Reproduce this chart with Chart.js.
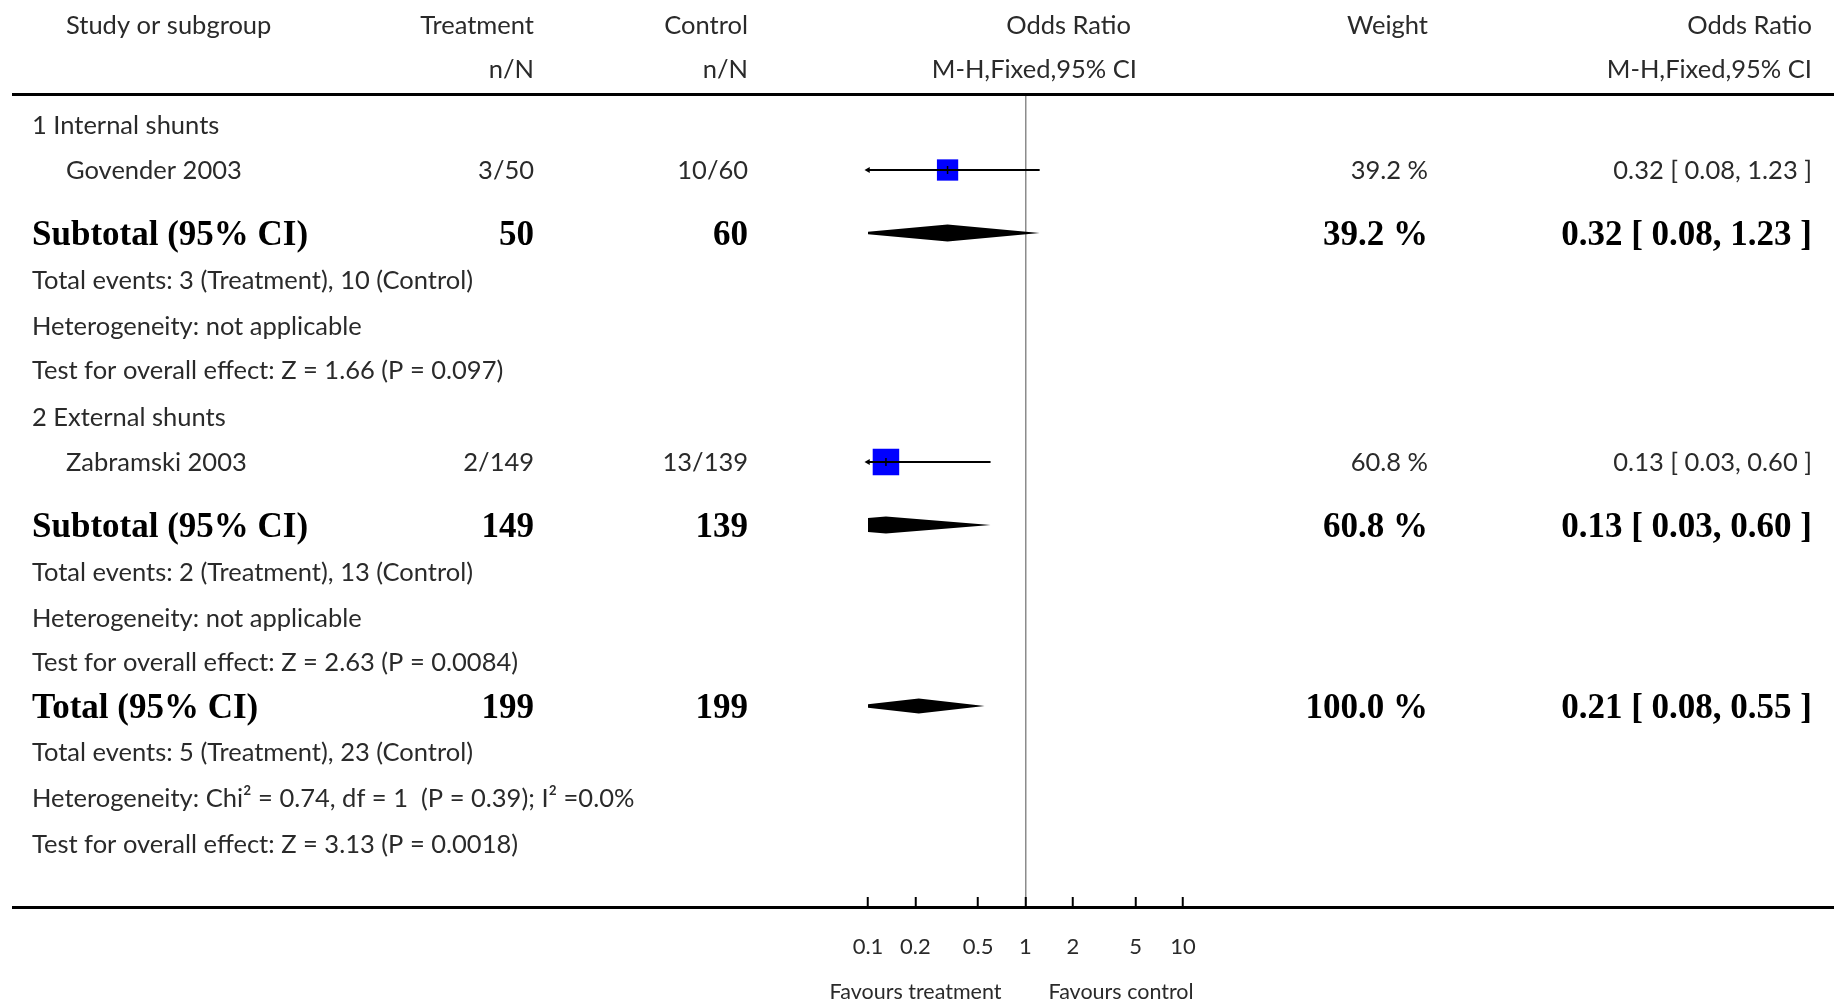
<!DOCTYPE html>
<html>
<head>
<meta charset="utf-8">
<script src="https://cdn.jsdelivr.net/npm/chart.js@4.4.1/dist/chart.umd.min.js"></script>
<style>
  html, body { margin: 0; padding: 0; background: #fff; }
  #wrap { width: 1837px; height: 1002px; }
</style>
</head>
<body>
<div id="wrap"><canvas id="forest" width="1837" height="1002"></canvas></div>
<script>
// forest plot - odds ratio, M-H fixed, 95% CI

const groupNames = ["1 Internal shunts", "2 External shunts"];
const studyNames = ["Govender 2003", "Zabramski 2003"];
const studyGroup = [0, 1];
const treatEvents = [3, 2];
const treatTotal = [50, 149];
const ctrlEvents = [10, 13];
const ctrlTotal = [60, 139];
const studyOR = [0.32, 0.13];
const studyLow = [0.08, 0.03];
const studyHigh = [1.23, 0.60];
const studyWeight = [39.2, 60.8];

const subTreatTotal = [50, 149];
const subCtrlTotal = [60, 139];
const subTreatEvents = [3, 2];
const subCtrlEvents = [10, 13];
const subOR = [0.32, 0.13];
const subLow = [0.08, 0.03];
const subHigh = [1.23, 0.60];
const subWeight = [39.2, 60.8];
const subHeterogeneity = ["Heterogeneity: not applicable", "Heterogeneity: not applicable"];
const subTest = ["Test for overall effect: Z = 1.66 (P = 0.097)", "Test for overall effect: Z = 2.63 (P = 0.0084)"];

const totalTreat = 199, totalCtrl = 199;
const totalTreatEvents = 5, totalCtrlEvents = 23;
const totalOR = 0.21, totalLow = 0.08, totalHigh = 0.55, totalWeight = 100.0;
const totalHeterogeneity = "Heterogeneity: Chi² = 0.74, df = 1  (P = 0.39); I² =0.0%";
const totalTest = "Test for overall effect: Z = 3.13 (P = 0.0018)";

const tickValues = [0.1, 0.2, 0.5, 1, 2, 5, 10];
const tickLabels = ["0.1", "0.2", "0.5", "1", "2", "5", "10"];
const favourLabels = ["Favours treatment", "Favours control"];

// layout
const W = 1837, H = 1002;
const ruleTop = 95, ruleBottom = 907, ruleLeft = 12, ruleRight = 1834;
const plotLeft = 868, plotRight = 1183;
const colName = 32, colStudy = 66, colTreat = 534, colCtrl = 748;
const colPlotHead1 = 1131, colPlotHead2 = 1137, colWeight = 1428, colOR = 1812;
const SANS = '"Lato", "Open Sans", sans-serif';
const SERIF = '"Liberation Serif", "Times New Roman", serif';
const sansFont = "25.5px " + SANS;
const boldFont = "bold 35px " + SERIF;
const textColor = "#2a2a2a";
const sansShift = 1, boldShift = 3;

const fmtOR = (o, l, h) => `${o.toFixed(2)} [ ${l.toFixed(2)}, ${h.toFixed(2)} ]`;
const fmtW = w => `${w.toFixed(1)} %`;
const eventsText = (t, c) => `Total events: ${t} (Treatment), ${c} (Control)`;

// build the table rows (y in px below the top rule)
const rows = [];
let y = 0;
function addRow(r, gap) { y += gap; r.y = y; rows.push(r); return r; }

const studyY = [], summaries = [];
groupNames.forEach((g, gi) => {
    addRow({ kind: "plain", text: g }, gi === 0 ? 30 : 47);
    studyNames.forEach((s, i) => {
        if (studyGroup[i] !== gi) return;
        const r = addRow({ kind: "study", i }, 45);
        studyY[i] = r.y;
    });
    const r = addRow({ kind: "bold", label: "Subtotal (95% CI)", nT: subTreatTotal[gi], nC: subCtrlTotal[gi],
        w: subWeight[gi], or: subOR[gi], lo: subLow[gi], hi: subHigh[gi] }, 63);
    summaries.push({ or: r.or, lo: r.lo, hi: r.hi, y: r.y, h: 8.5 });
    addRow({ kind: "plain", text: eventsText(subTreatEvents[gi], subCtrlEvents[gi]) }, 47);
    addRow({ kind: "plain", text: subHeterogeneity[gi] }, 46);
    addRow({ kind: "plain", text: subTest[gi] }, 44);
});
const tr = addRow({ kind: "bold", label: "Total (95% CI)", nT: totalTreat, nC: totalCtrl,
    w: totalWeight, or: totalOR, lo: totalLow, hi: totalHigh }, 44);
summaries.push({ or: tr.or, lo: tr.lo, hi: tr.hi, y: tr.y, h: 7.5 });
addRow({ kind: "plain", text: eventsText(totalTreatEvents, totalCtrlEvents) }, 46);
addRow({ kind: "plain", text: totalHeterogeneity }, 46);
addRow({ kind: "plain", text: totalTest }, 46);

// datasets
const datasets = [];
studyNames.forEach((s, i) => {
    datasets.push({
        data: [{ x: studyLow[i], y: studyY[i] }, { x: studyHigh[i], y: studyY[i] }],
        showLine: true, borderColor: "#000", borderWidth: 2, pointRadius: 0, order: 1
    });
});
datasets.push({
    data: studyNames.map((s, i) => ({ x: studyOR[i], y: studyY[i] })),
    pointStyle: "rect",
    pointRadius: studyWeight.map(w => 3.4 * Math.sqrt(w) / Math.SQRT2),
    backgroundColor: "#0000ff", borderWidth: 0, order: 2
});
datasets.push({
    data: studyNames.map((s, i) => ({ x: studyOR[i], y: studyY[i] })),
    pointStyle: "line", rotation: 90, pointRadius: 4,
    borderColor: "#000", borderWidth: 1.5, order: 0
});
const clipped = studyNames.map((s, i) => i).filter(i => studyLow[i] < tickValues[0]);
datasets.push({
    data: clipped.map(i => ({ x: tickValues[0], y: studyY[i] })),
    pointStyle: "triangle", rotation: -90, pointRadius: 3.5,
    backgroundColor: "#000", borderColor: "#000", borderWidth: 0, clip: false, order: 0
});
summaries.forEach(d => {
    datasets.push({
        data: [{ x: d.lo, y: d.y }, { x: d.or, y: d.y - d.h }, { x: d.hi, y: d.y },
               { x: d.or, y: d.y + d.h }, { x: d.lo, y: d.y }],
        showLine: true, fill: "shape", backgroundColor: "#000",
        borderColor: "rgba(0,0,0,0)", borderWidth: 1, pointRadius: 0, tension: 0, order: 1
    });
});

function drawText(ctx, str, x, yy, align, font, color) {
    ctx.font = font;
    ctx.fillStyle = color;
    ctx.textAlign = align;
    ctx.textBaseline = "middle";
    ctx.fillText(str, x, yy);
}

const tablePlugin = {
    id: "table",
    afterDraw(chart) {
        const ctx = chart.ctx;
        const py = v => chart.scales.y.getPixelForValue(v);
        const x1 = chart.scales.x.getPixelForValue(1);
        ctx.save();
        ctx.fillStyle = "#000";
        ctx.fillRect(ruleLeft, ruleTop - 2, ruleRight - ruleLeft, 3);
        ctx.fillRect(ruleLeft, ruleBottom - 1, ruleRight - ruleLeft, 3);

        // headers
        const h1 = py(-70) + 1, h2 = py(-26) + 1;
        drawText(ctx, "Study or subgroup", colStudy, h1, "left", sansFont, textColor);
        drawText(ctx, "Treatment", colTreat, h1, "right", sansFont, textColor);
        drawText(ctx, "n/N", colTreat, h2, "right", sansFont, textColor);
        drawText(ctx, "Control", colCtrl, h1, "right", sansFont, textColor);
        drawText(ctx, "n/N", colCtrl, h2, "right", sansFont, textColor);
        drawText(ctx, "Odds Ratio", colPlotHead1, h1, "right", sansFont, textColor);
        drawText(ctx, "M-H,Fixed,95% CI", colPlotHead2, h2, "right", sansFont, textColor);
        drawText(ctx, "Weight", colWeight, h1, "right", sansFont, textColor);
        drawText(ctx, "Odds Ratio", colOR, h1, "right", sansFont, textColor);
        drawText(ctx, "M-H,Fixed,95% CI", colOR, h2, "right", sansFont, textColor);

        rows.forEach(r => {
            const yy = py(r.y);
            const ys = yy + sansShift, yb = yy + boldShift;
            if (r.kind === "plain") {
                drawText(ctx, r.text, colName, ys, "left", sansFont, textColor);
            } else if (r.kind === "study") {
                const i = r.i;
                drawText(ctx, studyNames[i], colStudy, ys, "left", sansFont, textColor);
                drawText(ctx, `${treatEvents[i]}/${treatTotal[i]}`, colTreat, ys, "right", sansFont, textColor);
                drawText(ctx, `${ctrlEvents[i]}/${ctrlTotal[i]}`, colCtrl, ys, "right", sansFont, textColor);
                drawText(ctx, fmtW(studyWeight[i]), colWeight, ys, "right", sansFont, textColor);
                drawText(ctx, fmtOR(studyOR[i], studyLow[i], studyHigh[i]), colOR, ys, "right", sansFont, textColor);
            } else {
                drawText(ctx, r.label, colName, yb, "left", boldFont, "#000");
                drawText(ctx, String(r.nT), colTreat, yb, "right", boldFont, "#000");
                drawText(ctx, String(r.nC), colCtrl, yb, "right", boldFont, "#000");
                drawText(ctx, fmtW(r.w), colWeight, yb, "right", boldFont, "#000");
                drawText(ctx, fmtOR(r.or, r.lo, r.hi), colOR, yb, "right", boldFont, "#000");
            }
        });

        const fy = 992;
        drawText(ctx, favourLabels[0], x1 - 24, fy, "right", "21.5px " + SANS, textColor);
        drawText(ctx, favourLabels[1], x1 + 23, fy, "left", "21.5px " + SANS, textColor);
        ctx.restore();
    }
};

new Chart(document.getElementById("forest"), {
    type: "scatter",
    data: { datasets },
    options: {
        responsive: false,
        animation: false,
        layout: { padding: { left: plotLeft, right: W - plotRight, top: ruleTop, bottom: 0 } },
        plugins: { legend: { display: false }, tooltip: { enabled: false } },
        scales: {
            x: {
                type: "logarithmic",
                min: tickValues[0],
                max: tickValues[tickValues.length - 1],
                afterBuildTicks: s => { s.ticks = tickValues.map(v => ({ value: v })); },
                afterFit: s => { s.height = H - ruleBottom; },
                ticks: {
                    callback: (v, i) => tickLabels[i],
                    font: { family: SANS, size: 22 },
                    color: textColor,
                    padding: 37,
                    autoSkip: false,
                    maxRotation: 0
                },
                grid: {
                    color: c => (c.tick && c.tick.value === 1 ? "#8c8c8c" : "rgba(0,0,0,0)"),
                    lineWidth: 1.5,
                    tickLength: -10,
                    tickColor: "#000",
                    tickWidth: 2
                },
                border: { display: false }
            },
            y: {
                type: "linear",
                display: false,
                min: 0,
                max: ruleBottom - ruleTop,
                reverse: true
            }
        }
    },
    plugins: [tablePlugin]
});
</script>
</body>
</html>
